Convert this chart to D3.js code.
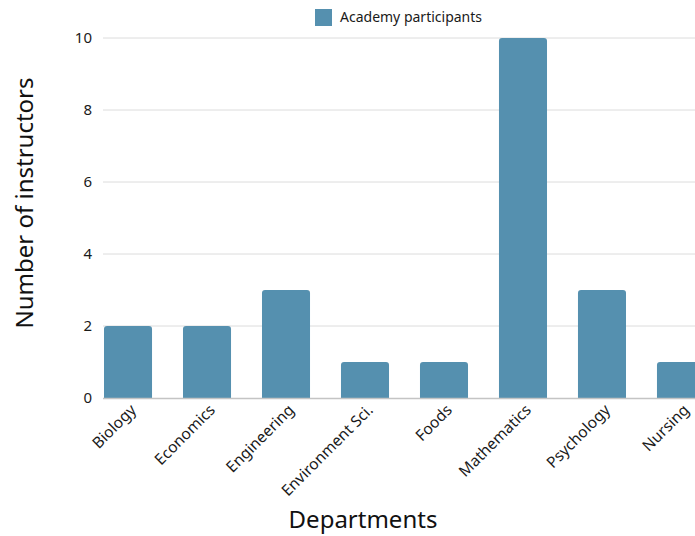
<!DOCTYPE html>
<html>
<head>
<meta charset="utf-8">
<script src="https://cdn.jsdelivr.net/npm/d3@7"></script>
<style>
body { margin: 0; background: #fff; }
svg { display: block; font-family: "Noto Sans", "Open Sans", sans-serif; }
</style>
</head>
<body>
<div id="chart"></div>
<script>
/* -----------------------
data
------------------------- */
var departments = ["Biology", "Economics", "Engineering", "Environment Sci.", "Foods", "Mathematics", "Psychology", "Nursing"];
var participants = [2, 2, 3, 1, 1, 10, 3, 1];
var yTicks = [0, 2, 4, 6, 8, 10];
var seriesName = "Academy participants";

/* -----------------------
main variables
------------------------- */
var width = 695, height = 536;
var barColor = "#5590af";

var svg = d3.select("#chart").append("svg")
    .attr("width", width)
    .attr("height", height);

var x = d3.scaleBand()
    .domain(departments)
    .range([104, 705])
    .paddingInner(0.392)
    .paddingOuter(0);

var y = d3.scaleLinear()
    .domain([0, 10])
    .range([398, 38]);

// gridlines
svg.append("g")
    .selectAll("line")
    .data(yTicks.filter(function(t){ return t > 0; }))
    .join("line")
    .attr("x1", 103).attr("x2", 720)
    .attr("y1", function(d){ return y(d); })
    .attr("y2", function(d){ return y(d); })
    .attr("stroke", "#dcdcdc")
    .attr("stroke-width", 1);

// y tick labels
var yAxis = svg.append("g")
    .attr("transform", "translate(103,0)")
    .call(d3.axisLeft(y).tickValues(yTicks).tickSize(0).tickPadding(11).tickFormat(d3.format("d")));
yAxis.select(".domain").remove();
yAxis.selectAll("text")
    .attr("font-size", "15px")
    .attr("fill", "#1a1a1a")
    .attr("font-family", "Noto Sans, sans-serif");

// bars with rounded top corners
var r = 3;
svg.append("g")
    .selectAll("path")
    .data(departments)
    .join("path")
    .attr("fill", barColor)
    .attr("d", function(d, i){
        var x0 = x(d), x1 = x(d) + x.bandwidth();
        var y0 = y(0), y1 = y(participants[i]);
        return "M" + x0 + "," + y0 +
            "V" + (y1 + r) +
            "Q" + x0 + "," + y1 + " " + (x0 + r) + "," + y1 +
            "H" + (x1 - r) +
            "Q" + x1 + "," + y1 + " " + x1 + "," + (y1 + r) +
            "V" + y0 + "Z";
    });

// x axis baseline
svg.append("line")
    .attr("x1", 103).attr("x2", 720)
    .attr("y1", y(0) + 0.5).attr("y2", y(0) + 0.5)
    .attr("stroke", "#c4c4c4")
    .attr("stroke-width", 1.5);

// category labels
svg.append("g")
    .selectAll("text")
    .data(departments)
    .join("text")
    .attr("transform", function(d){
        return "translate(" + (x(d) + x.bandwidth() / 2 + 9) + "," + 411 + ") rotate(-45)";
    })
    .attr("text-anchor", "end")
    .attr("font-size", "15.5px")
    .attr("fill", "#1a1a1a")
    .text(function(d){ return d; });

// axis titles
svg.append("text")
    .attr("transform", "translate(33,203) rotate(-90)")
    .attr("text-anchor", "middle")
    .attr("font-size", "24px")
    .attr("fill", "#111")
    .text("Number of instructors");

svg.append("text")
    .attr("x", 363)
    .attr("y", 528)
    .attr("text-anchor", "middle")
    .attr("font-size", "24px")
    .attr("fill", "#111")
    .text("Departments");

// legend
var legend = svg.append("g").attr("transform", "translate(315,9)");
legend.append("rect")
    .attr("width", 17).attr("height", 17)
    .attr("fill", barColor);
legend.append("text")
    .attr("x", 25).attr("y", 13)
    .attr("font-size", "14px")
    .attr("fill", "#1a1a1a")
    .text(seriesName);
</script>
</body>
</html>
